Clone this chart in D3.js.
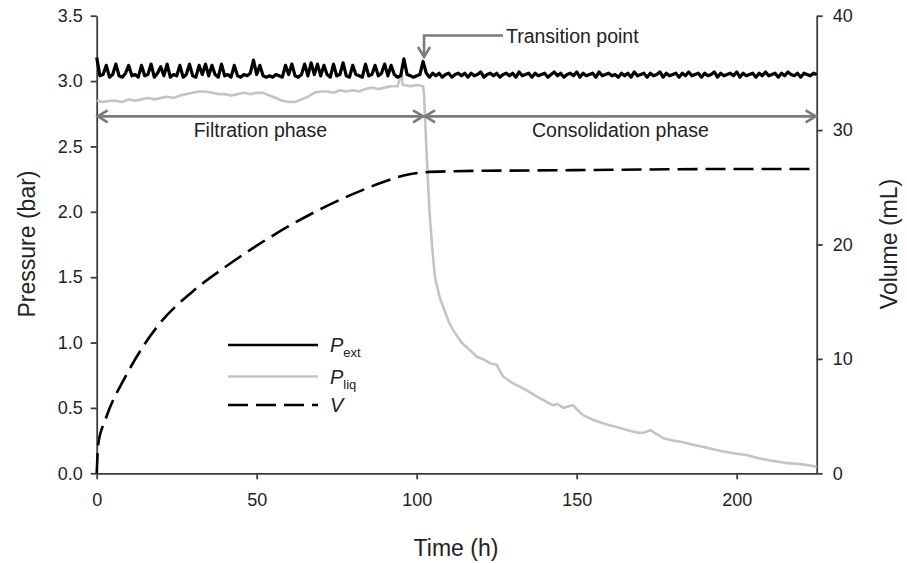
<!DOCTYPE html>
<html>
<head>
<meta charset="utf-8">
<script src="https://cdn.jsdelivr.net/npm/d3@7"></script>
<style>
  body { margin: 0; background: #fff; }
  svg { display: block; font-family: "Liberation Sans", Arial, sans-serif; }
  .axis path, .axis line { stroke: #3c3c3c; stroke-width: 1.8; }
  .axis text { fill: #222; font-size: 18px; }
</style>
</head>
<body>
<svg id="chart" width="907" height="563"></svg>
<script>
// External pressure (bar), one reading per hour from 0 to 225 h
var pExt = [
  3.18, 3.04, 3.05, 3.12, 3.03, 3.05, 3.13, 3.04, 3.03, 3.06,
  3.12, 3.04, 3.05, 3.03, 3.12, 3.04, 3.05, 3.13, 3.03, 3.06,
  3.11, 3.04, 3.13, 3.03, 3.05, 3.04, 3.12, 3.03, 3.05, 3.13,
  3.04, 3.03, 3.12, 3.05, 3.13, 3.04, 3.12, 3.05, 3.03, 3.13,
  3.04, 3.05, 3.03, 3.12, 3.04, 3.03, 3.05, 3.04, 3.06, 3.16,
  3.05, 3.12, 3.04, 3.03, 3.04, 3.03, 3.05, 3.04, 3.03, 3.12,
  3.05, 3.13, 3.04, 3.03, 3.05, 3.13, 3.04, 3.14, 3.05, 3.13,
  3.04, 3.12, 3.05, 3.03, 3.13, 3.04, 3.05, 3.14, 3.04, 3.03,
  3.12, 3.05, 3.04, 3.03, 3.13, 3.04, 3.05, 3.12, 3.04, 3.06,
  3.13, 3.04, 3.12, 3.05, 3.03, 3.04, 3.17, 3.05, 3.04, 3.03,
  3.04, 3.05, 3.15, 3.06, 3.03, 3.06, 3.04, 3.06, 3.03, 3.05,
  3.06, 3.03, 3.05, 3.06, 3.04, 3.06, 3.03, 3.06, 3.04, 3.05,
  3.07, 3.03, 3.05, 3.06, 3.04, 3.06, 3.03, 3.05, 3.06, 3.04,
  3.06, 3.03, 3.07, 3.04, 3.05, 3.06, 3.03, 3.06, 3.04, 3.05,
  3.06, 3.03, 3.05, 3.07, 3.04, 3.06, 3.03, 3.05, 3.06, 3.04,
  3.07, 3.03, 3.06, 3.04, 3.05, 3.06, 3.03, 3.07, 3.04, 3.05,
  3.06, 3.04, 3.05, 3.03, 3.06, 3.04, 3.06, 3.03, 3.07, 3.04,
  3.05, 3.06, 3.03, 3.06, 3.04, 3.05, 3.07, 3.03, 3.06, 3.04,
  3.05, 3.06, 3.03, 3.06, 3.04, 3.07, 3.04, 3.05, 3.06, 3.03,
  3.06, 3.04, 3.05, 3.07, 3.03, 3.06, 3.04, 3.05, 3.06, 3.04,
  3.07, 3.03, 3.06, 3.04, 3.05, 3.06, 3.03, 3.06, 3.04, 3.07,
  3.04, 3.05, 3.06, 3.03, 3.06, 3.04, 3.07, 3.05, 3.04, 3.06,
  3.03, 3.06, 3.05, 3.04, 3.06, 3.05
];
var pExtTime = d3.range(0, pExt.length);

// Liquid pressure (bar)
var pLiqTime = [
  0, 2, 4, 6, 8, 10, 12, 14, 16, 18, 20, 22, 24, 26, 28, 30, 32, 34, 36, 38,
  40, 42, 44, 46, 48, 50, 52, 54, 56, 58, 60, 62, 64, 66, 68, 70, 72, 74, 76, 78,
  80, 82, 84, 86, 88, 90, 92, 94, 95.3, 95.6, 96, 98, 100, 102, 102.3, 103, 104,
  104.9, 105.7, 107, 108.3, 110, 111.4, 114, 116.7, 118.9, 121, 123, 125, 127,
  130, 134.4, 138, 142.6, 144, 145.8, 147, 149, 150, 152, 155, 157.3, 160, 163,
  166, 169, 171, 173, 175, 177, 180, 183, 186, 190, 195, 200, 203, 206, 210,
  215, 220, 223, 225
];
var pLiq = [
  2.85, 2.84, 2.85, 2.85, 2.84, 2.86, 2.85, 2.86, 2.87, 2.86, 2.87, 2.88, 2.87, 2.89, 2.90, 2.91, 2.92, 2.92, 2.91, 2.90,
  2.90, 2.89, 2.90, 2.91, 2.90, 2.91, 2.91, 2.89, 2.87, 2.85, 2.84, 2.84, 2.86, 2.88, 2.91, 2.92, 2.92, 2.91, 2.93, 2.92,
  2.93, 2.92, 2.94, 2.95, 2.94, 2.95, 2.96, 2.96, 3.06, 2.97, 2.97, 2.96, 2.97, 2.96, 2.90, 2.50, 2.00,
  1.71, 1.50, 1.36, 1.27, 1.16, 1.095, 1.00, 0.94, 0.89, 0.87, 0.84, 0.83, 0.74,
  0.69, 0.635, 0.58, 0.52, 0.53, 0.50, 0.51, 0.52, 0.49, 0.445, 0.41, 0.39, 0.37, 0.35,
  0.33, 0.31, 0.31, 0.33, 0.30, 0.27, 0.25, 0.24, 0.22, 0.20, 0.17, 0.15, 0.14, 0.12, 0.10,
  0.08, 0.07, 0.06, 0.05
];

// Filtrate volume (mL)
var volTime = [0, 0.5, 2.6, 4.2, 8.3, 15, 20, 30, 40, 50, 60, 70, 80, 90, 97, 102, 110, 150, 200, 225];
var vol = [0, 2.6, 4.6, 5.8, 8.1, 11.3, 13.2, 15.9, 18.0, 19.9, 21.6, 23.1, 24.4, 25.5, 26.1, 26.3, 26.4, 26.5, 26.6, 26.6];

var xTicks = [0, 50, 100, 150, 200];
var pTicks = [0, 0.5, 1, 1.5, 2, 2.5, 3, 3.5];
var vTicks = [0, 10, 20, 30, 40];

var transitionTime = 102.3;
var arrowLevel = 2.73;

var svg = d3.select('#chart');
var grey = '#7b7b7b';

var x = d3.scaleLinear().domain([0, 225]).range([96.7, 816.7]);
var y = d3.scaleLinear().domain([0, 3.5]).range([473.3, 15.7]);
var yV = d3.scaleLinear().domain([0, 40]).range([473.3, 15.7]);

// axes
svg.append('g')
    .attr('class', 'axis')
    .attr('transform', 'translate(0,' + y(0) + ')')
    .call(d3.axisBottom(x).tickValues(xTicks).tickSize(6).tickPadding(14).tickSizeOuter(0));

svg.append('g')
    .attr('class', 'axis')
    .attr('transform', 'translate(' + x(0) + ',0)')
    .call(d3.axisLeft(y).tickValues(pTicks).tickFormat(d3.format('.1f')).tickSize(6).tickPadding(8).tickSizeOuter(0));

svg.append('g')
    .attr('class', 'axis')
    .attr('transform', 'translate(' + x(225) + ',0)')
    .call(d3.axisRight(yV).tickValues(vTicks).tickSize(6).tickPadding(10).tickSizeOuter(0));

// titles
svg.append('text')
    .attr('x', 456).attr('y', 556)
    .attr('text-anchor', 'middle')
    .attr('font-size', 23)
    .attr('fill', '#222')
    .text('Time (h)');

svg.append('text')
    .attr('transform', 'translate(35,244) rotate(-90)')
    .attr('text-anchor', 'middle')
    .attr('font-size', 23)
    .attr('fill', '#222')
    .text('Pressure (bar)');

svg.append('text')
    .attr('transform', 'translate(897,244) rotate(-90)')
    .attr('text-anchor', 'middle')
    .attr('font-size', 23)
    .attr('fill', '#222')
    .text('Volume (mL)');

// lines
var pExtLine = d3.line()
    .x(function(d, i) { return x(pExtTime[i]); })
    .y(function(d) { return y(d); });
var pLiqLine = d3.line()
    .x(function(d, i) { return x(pLiqTime[i]); })
    .y(function(d) { return y(d); });
var volLine = d3.line()
    .curve(d3.curveMonotoneX)
    .x(function(d, i) { return x(volTime[i]); })
    .y(function(d) { return yV(d); });

svg.append('path')
    .datum(pLiq)
    .attr('d', pLiqLine)
    .attr('fill', 'none')
    .attr('stroke', '#c4c4c4')
    .attr('stroke-width', 2.6)
    .attr('stroke-linejoin', 'round');

svg.append('path')
    .datum(pExt)
    .attr('d', pExtLine)
    .attr('fill', 'none')
    .attr('stroke', '#000')
    .attr('stroke-width', 3.2)
    .attr('stroke-linejoin', 'round');

svg.append('path')
    .datum(vol)
    .attr('d', volLine)
    .attr('fill', 'none')
    .attr('stroke', '#000')
    .attr('stroke-width', 2.6)
    .attr('stroke-dasharray', '20,8');

// phase arrows
function doubleArrow(x0, x1, yy) {
  var g = svg.append('g')
      .attr('fill', 'none')
      .attr('stroke', grey)
      .attr('stroke-width', 2.6);
  g.append('line').attr('x1', x0).attr('x2', x1).attr('y1', yy).attr('y2', yy);
  g.append('path').attr('d', 'M' + (x0 + 11) + ',' + (yy - 6) + 'L' + (x0 + 1) + ',' + yy + 'L' + (x0 + 11) + ',' + (yy + 6));
  g.append('path').attr('d', 'M' + (x1 - 11) + ',' + (yy - 6) + 'L' + (x1 - 1) + ',' + yy + 'L' + (x1 - 11) + ',' + (yy + 6));
}
doubleArrow(x(0), x(transitionTime), y(arrowLevel));
doubleArrow(x(transitionTime), x(225), y(arrowLevel));

svg.append('text')
    .attr('x', (x(0) + x(transitionTime)) / 2)
    .attr('y', y(arrowLevel) + 21)
    .attr('text-anchor', 'middle')
    .attr('font-size', 19.5)
    .attr('fill', '#222')
    .text('Filtration phase');

svg.append('text')
    .attr('x', (x(transitionTime) + x(225)) / 2)
    .attr('y', y(arrowLevel) + 21)
    .attr('text-anchor', 'middle')
    .attr('font-size', 19.5)
    .attr('fill', '#222')
    .text('Consolidation phase');

// transition point callout
var tx = x(transitionTime);
svg.append('path')
    .attr('d', 'M503,35.5H' + tx + 'V54')
    .attr('fill', 'none')
    .attr('stroke', grey)
    .attr('stroke-width', 2.6);
svg.append('path')
    .attr('d', 'M' + (tx - 6) + ',47L' + tx + ',57L' + (tx + 6) + ',47')
    .attr('fill', 'none')
    .attr('stroke', grey)
    .attr('stroke-width', 2.6);
svg.append('text')
    .attr('x', 506).attr('y', 43)
    .attr('font-size', 19.5)
    .attr('fill', '#222')
    .text('Transition point');

// legend
var legend = [
  { name: 'P', sub: 'ext', color: '#000', dash: null },
  { name: 'P', sub: 'liq', color: '#c4c4c4', dash: null },
  { name: 'V', sub: '', color: '#000', dash: '20,8' }
];
var legendY = [345, 376.5, 405];

var lg = svg.selectAll('.legend')
    .data(legend)
  .enter().append('g')
    .attr('class', 'legend')
    .attr('transform', function(d, i) { return 'translate(0,' + legendY[i] + ')'; });

lg.append('line')
    .attr('x1', 228).attr('x2', 318)
    .attr('stroke', function(d) { return d.color; })
    .attr('stroke-width', 2.6)
    .attr('stroke-dasharray', function(d) { return d.dash; });

var lt = lg.append('text')
    .attr('x', 330).attr('y', 7)
    .attr('font-size', 20)
    .attr('fill', '#222');
lt.append('tspan')
    .attr('font-style', 'italic')
    .text(function(d) { return d.name; });
lt.append('tspan')
    .attr('font-size', 13)
    .attr('dy', 5)
    .text(function(d) { return d.sub; });
</script>
</body>
</html>
